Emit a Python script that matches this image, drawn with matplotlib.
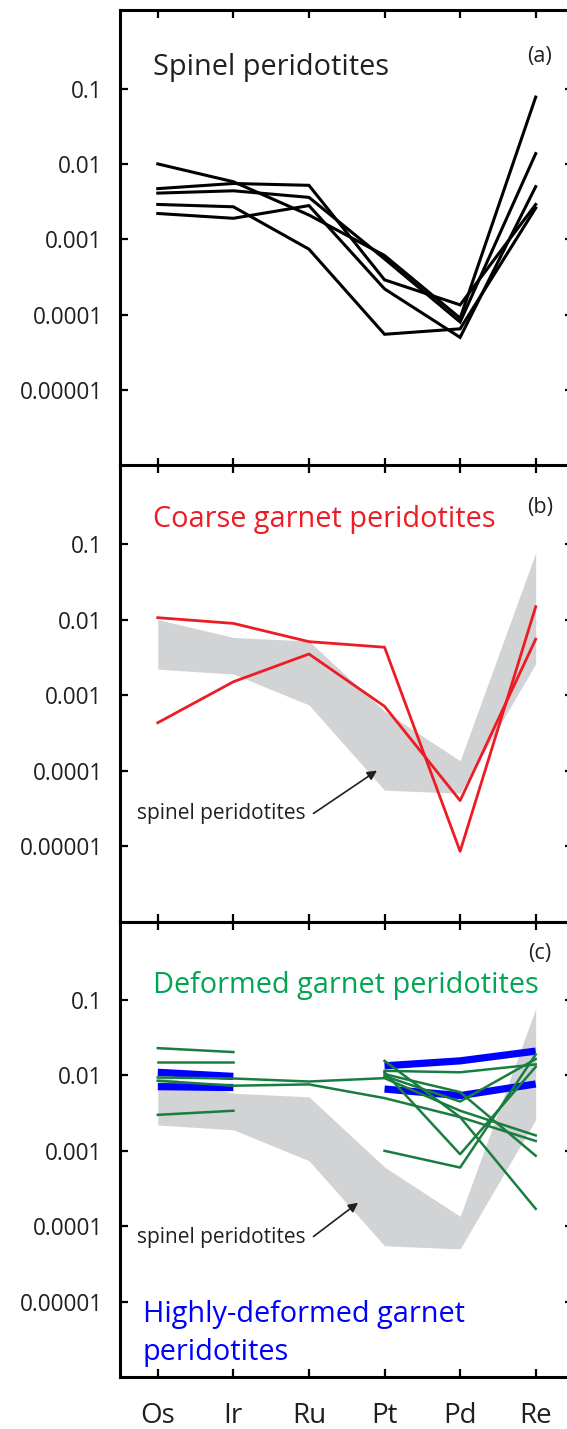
import numpy as np
import matplotlib
matplotlib.use("Agg")
import matplotlib.pyplot as plt
from matplotlib.ticker import NullLocator

plt.rcParams['font.family'] = ['Open Sans', 'DejaVu Sans']

# ---------------- data ----------------
elements = ['Os', 'Ir', 'Ru', 'Pt', 'Pd', 'Re']
ytick_vals = [0.1, 0.01, 0.001, 0.0001, 0.00001]
ytick_labels = ['0.1', '0.01', '0.001', '0.0001', '0.00001']
nan = np.nan

# (a) spinel peridotites
sp1 = [0.0100, 0.0058, 0.0021, 6.1e-4, 9.0e-5, 0.077]
sp2 = [0.0047, 0.0055, 0.0052, 2.9e-4, 1.35e-4, 0.0029]
sp3 = [0.0041, 0.0044, 0.0036, 5.5e-4, 8.0e-5, 0.0137]
sp4 = [0.0029, 0.0027, 7.4e-4, 5.5e-5, 6.5e-5, 0.0026]
sp5 = [0.0022, 0.0019, 0.0028, 2.2e-4, 5.0e-5, 0.0050]
spinel = [sp1, sp2, sp3, sp4, sp5]

# (b) coarse garnet peridotites
cg1 = [0.0106, 0.0089, 0.0051, 0.0043, 8.5e-6, 0.0148]
cg2 = [4.3e-4, 0.0015, 0.0035, 7.1e-4, 4.0e-5, 0.0055]
coarse = [cg1, cg2]

# (c) deformed garnet peridotites
dg1 = [0.0230, 0.0204, nan, nan, nan, nan]
dg2 = [0.0149, 0.0149, nan, nan, nan, nan]
dg3 = [0.0030, 0.0034, nan, nan, nan, nan]
dg4 = [0.0094, 0.0091, 0.0083, 0.0092, 0.0034, 0.0016]
dg5 = [0.0085, 0.0073, 0.0076, 0.0050, 0.0028, 0.00135]
dg6 = [nan, nan, nan, 0.0156, 0.0028, 1.7e-4]
dg7 = [nan, nan, nan, 0.0115, 0.0110, 0.0140]
dg8 = [nan, nan, nan, 0.0110, 9.0e-4, 0.0130]
dg9 = [nan, nan, nan, 0.0010, 6.0e-4, 0.0190]
dg10 = [nan, nan, nan, 0.0104, 0.0060, 8.6e-4]
dg11 = [nan, nan, nan, 0.0098, 0.0045, 0.0165]
deformed = [dg1, dg2, dg3, dg4, dg5, dg6, dg7, dg8, dg9, dg10, dg11]

# (c) highly-deformed garnet peridotites
hd1 = [0.0110, 0.0097, nan, 0.0134, 0.0156, 0.021]
hd2 = [0.0071, 0.0069, nan, 0.0066, 0.0054, 0.0077]
highly = [hd1, hd2]

# ---------------- style ----------------
TXT = '#231f20'
RED = '#ed1c24'
GREEN_LINE = '#1a7d40'
GREEN_TXT = '#00a651'
BLUE = '#0000ff'
GRAY = '#d1d3d4'
TITLE_FS = 20.8

W, H = 567, 1429
fig = plt.figure(figsize=(W / 100, H / 100), dpi=100)
x0, x1 = 120, 573.5
edges = [10, 465.5, 921.5, 1377]
axes = []
for i in range(3):
    t, b = edges[i], edges[i + 1]
    ax = fig.add_axes([x0 / W, 1 - b / H, (x1 - x0) / W, (b - t) / H])
    axes.append(ax)

x = np.arange(len(elements))
sp_arr = np.array(spinel)
band_lo = sp_arr.min(axis=0)
band_hi = sp_arr.max(axis=0)

for i, ax in enumerate(axes):
    ax.set_yscale('log')
    ax.set_ylim(1e-6, 1.1)
    ax.set_xlim(-0.5, 5.5)
    ax.set_yticks(ytick_vals)
    ax.set_yticklabels(ytick_labels)
    ax.yaxis.set_minor_locator(NullLocator())
    ax.set_xticks(x)
    ax.set_xticklabels(elements)
    ax.tick_params(axis='both', which='major', direction='in', length=6, width=1.6,
                   top=True, right=True, colors='black', labelcolor=TXT)
    ax.tick_params(axis='y', labelsize=16.3, pad=12.5)
    ax.tick_params(axis='x', labelsize=20, pad=18, labelbottom=(i == 2))
    for s in ax.spines.values():
        s.set_linewidth(2.2)
    ax.spines['right'].set_visible(False)

# (a)
ax = axes[0]
for row in spinel:
    ax.plot(x, row, color='black', lw=2.2, solid_joinstyle='miter')
ax.text(0.0728, 0.857, 'Spinel peridotites', transform=ax.transAxes,
        fontsize=TITLE_FS, color=TXT, ha='left', va='baseline')
ax.text(0.952, 0.899, '(a)', transform=ax.transAxes, fontsize=15.5,
        color=TXT, ha='right', va='center')

# (b)
ax = axes[1]
ax.fill_between(x, band_lo, band_hi, color=GRAY, lw=0, zorder=1)
for row in coarse:
    ax.plot(x, row, color=RED, lw=2.0, zorder=3)
ax.text(0.0728, 0.865, 'Coarse garnet peridotites', transform=ax.transAxes,
        fontsize=TITLE_FS, color=RED, ha='left', va='baseline')
ax.text(0.954, 0.907, '(b)', transform=ax.transAxes, fontsize=15.5,
        color=TXT, ha='right', va='center')
ax.text(-0.27, 2.3e-5, 'spinel peridotites', fontsize=15, color=TXT,
        ha='left', va='baseline', zorder=4)
ax.annotate('', xy=(2.9, 1.0e-4), xytext=(2.06, 2.7e-5),
            arrowprops=dict(arrowstyle='-|>', lw=1.2, color=TXT,
                            mutation_scale=14, shrinkA=0, shrinkB=0), zorder=4)

# (c)
ax = axes[2]
ax.fill_between(x, band_lo, band_hi, color=GRAY, lw=0, zorder=1)
for row in highly:
    ax.plot(x, row, color=BLUE, lw=5.2, solid_capstyle='butt', zorder=2)
for row in deformed:
    ax.plot(x, row, color=GREEN_LINE, lw=1.8, zorder=3)
ax.text(0.950, 0.930, '(c)', transform=ax.transAxes, fontsize=15.5,
        color=TXT, ha='right', va='center')
ax.text(0.0728, 0.842, 'Deformed garnet peridotites', transform=ax.transAxes,
        fontsize=TITLE_FS, color=GREEN_TXT, ha='left', va='baseline')
ax.text(0.0507, 0.121, 'Highly-deformed garnet', transform=ax.transAxes,
        fontsize=TITLE_FS, color=BLUE, ha='left', va='baseline')
ax.text(0.0507, 0.037, 'peridotites', transform=ax.transAxes,
        fontsize=TITLE_FS, color=BLUE, ha='left', va='baseline')
ax.text(-0.27, 5.9e-5, 'spinel peridotites', fontsize=15, color=TXT,
        ha='left', va='baseline', zorder=4)
ax.annotate('', xy=(2.65, 2.05e-4), xytext=(2.06, 7.3e-5),
            arrowprops=dict(arrowstyle='-|>', lw=1.2, color=TXT,
                            mutation_scale=14, shrinkA=0, shrinkB=0), zorder=4)

fig.savefig('out.png', dpi=100)
